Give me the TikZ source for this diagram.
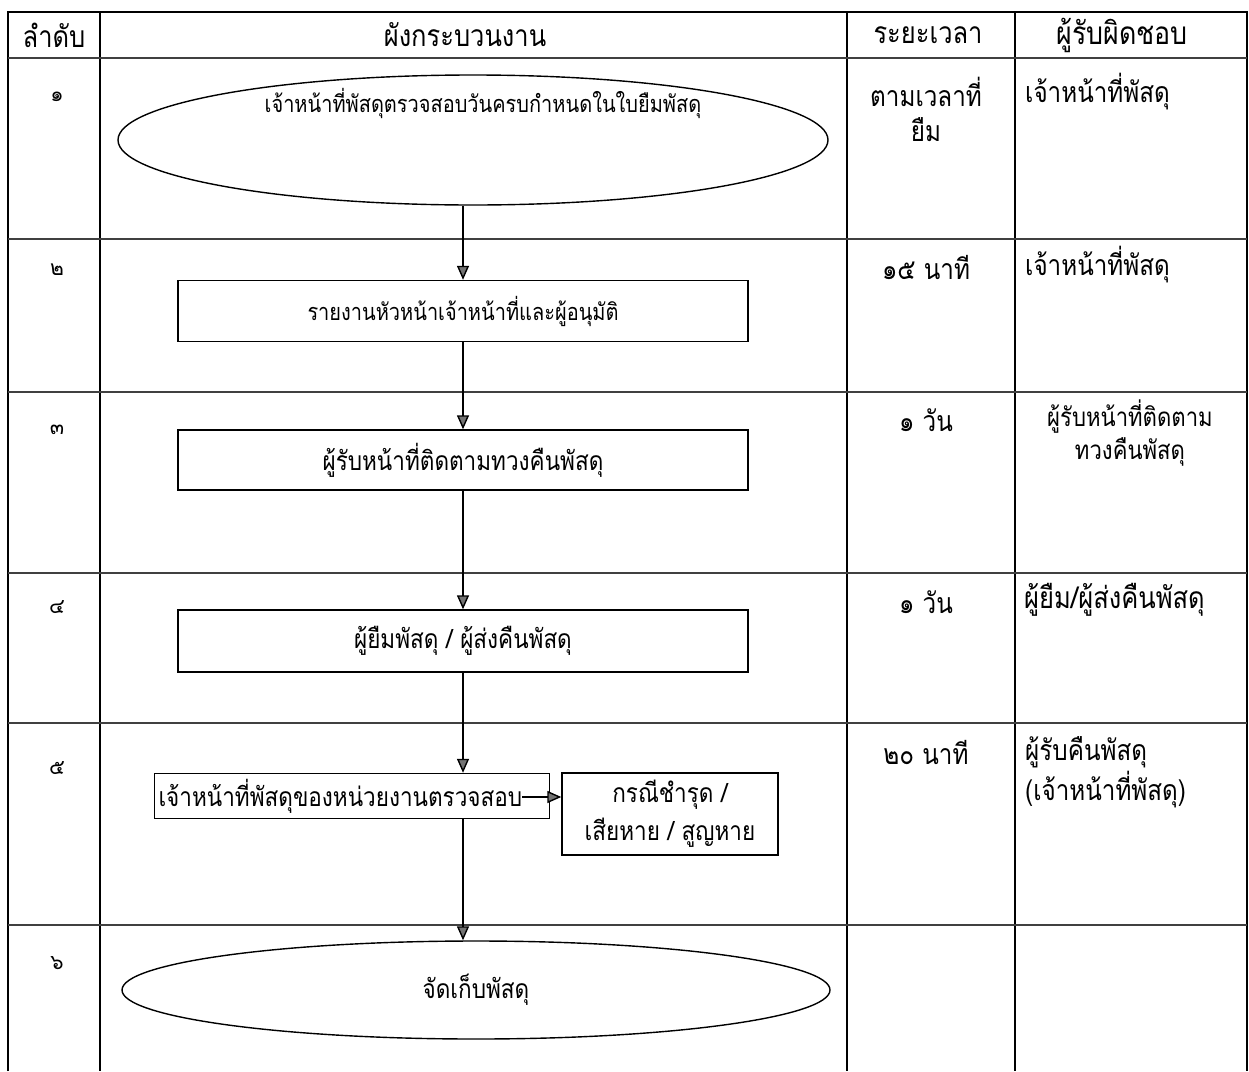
\documentclass[tikz,border=0pt]{standalone}
\usepackage{fontspec}
\setmainfont[Script=Thai]{Loma}
\newfontfamily\thn[Script=Thai,FakeStretch=0.85]{Loma}
\usetikzlibrary{shapes.geometric,arrows.meta}
\begin{document}
\begin{tikzpicture}[x=1pt,y=-1pt,
  grid/.style={line width=1.3pt,black},
  rowline/.style={line width=1.3pt,black!75},
  shp/.style={draw,line width=1.4pt,font=\thn\fontsize{23.5}{26}\selectfont,inner sep=0pt},
  boxstep/.style={shp,rectangle},
  bigtxt/.style={font=\thn\fontsize{26.5}{30}\selectfont},
  oval/.style={shp,ellipse},
  hd/.style={font=\thn\fontsize{30}{33}\selectfont},
  num/.style={font=\fontsize{21}{24}\selectfont,inner sep=0pt},
  tx/.style={font=\thn\fontsize{28.5}{32}\selectfont,inner sep=0pt},
  txl/.style={tx,anchor=west},
  arr/.style={line width=1.4pt,-{Triangle[width=12pt,length=14pt,fill=black!55]}}]
\useasboundingbox (0,0) rectangle (1249,1071);
% table
\draw[grid] (8,1071) -- (8,12) -- (1247,12) -- (1247,1071);
\draw[grid] (100,12) -- (100,1071);
\draw[grid] (847,12) -- (847,1071);
\draw[grid] (1015,12) -- (1015,1071);
\foreach \y in {58,239,392,573,723,925} \draw[rowline] (8,\y) -- (1247,\y);
% headers
\node[hd] (h1) at (54,35) {ลำดับ};
\node[hd] (h2) at (465,35) {ผังกระบวนงาน};
\node[hd] (h3) at (928,35) {ระยะเวลา};
\node[hd,font=\thn\fontsize{31.5}{34}\selectfont] (h4) at (1122,35) {ผู้รับผิดชอบ};
% numbers
\node[num] (n1) at (57,97) {๑};
\node[num] (n2) at (57,270) {๒};
\node[num] (n3) at (57,430) {๓};
\node[num] (n4) at (57,607) {๔};
\node[num] (n5) at (57,768) {๕};
\node[num] (n6) at (57,963) {๖};
% time
\node[tx] (t1a) at (926,92) {ตามเวลาที่};
\node[tx] (t1b) at (926,130) {ยืม};
\node[tx] (t2) at (926,267) {๑๕ นาที};
\node[tx] (t3) at (926,420) {๑ วัน};
\node[tx] (t4) at (926,602) {๑ วัน};
\node[tx] (t5) at (926,752) {๒๐ นาที};
% responsible
\node[txl] (r1) at (1025,92) {เจ้าหน้าที่พัสดุ};
\node[txl] (r2) at (1025,265) {เจ้าหน้าที่พัสดุ};
\node[tx,font=\thn\fontsize{26}{30}\selectfont] (r3a) at (1130,417) {ผู้รับหน้าที่ติดตาม};
\node[tx,font=\thn\fontsize{26}{30}\selectfont] (r3b) at (1130,452) {ทวงคืนพัสดุ};
\node[txl,font=\thn\fontsize{30}{33}\selectfont] (r4) at (1024,600) {ผู้ยืม/ผู้ส่งคืนพัสดุ};
\node[txl] (r5a) at (1025,752) {ผู้รับคืนพัสดุ};
\node[txl] (r5b) at (1025,790) {(เจ้าหน้าที่พัสดุ)};
% flow
\node[oval,minimum width=710pt,minimum height=130pt] (e1) at (473,140) {};
\node[shp,draw=none] (e1t) at (483,103) {เจ้าหน้าที่พัสดุตรวจสอบวันครบกำหนดในใบยืมพัสดุ};
\node[boxstep,minimum width=570pt,minimum height=61pt] (b2) at (463,311) {รายงานหัวหน้าเจ้าหน้าที่และผู้อนุมัติ};
\node[boxstep,bigtxt,minimum width=570pt,minimum height=60pt] (b3) at (463,460) {ผู้รับหน้าที่ติดตามทวงคืนพัสดุ};
\node[boxstep,bigtxt,minimum width=570pt,minimum height=62pt] (b4) at (463,641) {ผู้ยืมพัสดุ / ผู้ส่งคืนพัสดุ};
\node[boxstep,bigtxt,minimum width=395pt,minimum height=45pt,text width=387pt,align=left] (b5) at (352,796) {เจ้าหน้าที่พัสดุของหน่วยงานตรวจสอบ};
\node[boxstep,bigtxt,minimum width=216pt,minimum height=82pt,align=center] (b5s) at (670,814) {กรณีชำรุด /\\[8pt] เสียหาย / สูญหาย};
\node[oval,bigtxt,minimum width=708pt,minimum height=98pt] (e6) at (476,990) {จัดเก็บพัสดุ};
% connectors
\draw[arr] (b2.north |- e1.south) -- (b2.north);
\draw[arr] (b2.south) -- (b3.north);
\draw[arr] (b3.south) -- (b4.north);
\draw[arr] (b4.south) -- (b4.south |- b5.north);
\draw[arr] (b4.south |- b5.south) -- (b4.south |- e6.north);
\coordinate (c5) at (522,797);
\draw[arr] (c5) -- (b5s.west |- c5);
\end{tikzpicture}
\end{document}
